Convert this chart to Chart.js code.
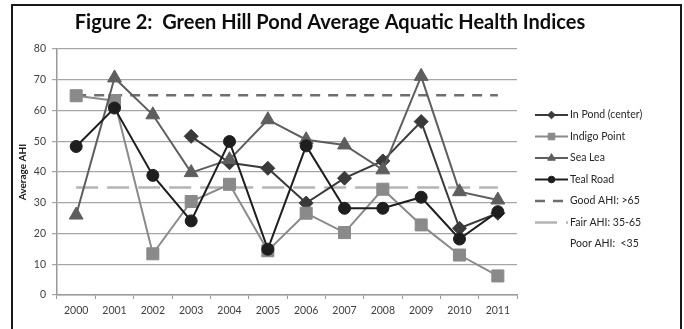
<!DOCTYPE html>
<html>
<head>
<meta charset="utf-8">
<script src="https://cdn.jsdelivr.net/npm/chart.js@4.4.1/dist/chart.umd.min.js"></script>
<style>
  html, body { margin: 0; padding: 0; background: #fff; }
  #wrap { position: relative; width: 684px; height: 329px; overflow: hidden; }
  #frame { position: absolute; left: 11px; top: 4px; width: 667px; height: 340px; border: 2px solid #1a1a1a; }
  canvas { position: absolute; left: 0; top: 0; }
</style>
</head>
<body>
<div id="wrap">
  <div id="frame"></div>
  <canvas id="chart" width="684" height="329"></canvas>
</div>
<script>
// Survey years
const years = ['2000', '2001', '2002', '2003', '2004', '2005', '2006', '2007', '2008', '2009', '2010', '2011'];

// Average AHI per monitoring site
const inPond      = [null, null, null, 51.6, 43.0, 41.2, 29.9, 38.0, 43.6, 56.4, 21.7, 26.6];
const indigoPoint = [64.8, 63.2, 13.4, 30.4, 36.0, 14.4, 26.6, 20.3, 34.4, 22.8, 13.0, 6.2];
const seaLea      = [26.0, 70.6, 58.6, 39.8, 44.0, 57.0, 50.5, 48.8, 40.7, 71.1, 33.6, 30.9];
const tealRoad    = [48.3, 60.8, 38.9, 24.1, 49.9, 14.9, 48.5, 28.2, 28.2, 31.8, 18.2, 27.1];

// Health class thresholds
const goodAhi = [65, 65, 65, 65, 65, 65, 65, 65, 65, 65, 65, 65];
const fairAhi = [35, 35, 35, 35, 35, 35, 35, 35, 35, 35, 35, 35];
const poorAhi = [null, null, null, null, null, null, null, null, null, null, null, null];

const titleText = 'Figure 2:  Green Hill Pond Average Aquatic Health Indices';
const yAxisTitle = 'Average AHI';

const FONT = 'Lato, "Open Sans", sans-serif';

function site(label, data, color, pointStyle, radius, order) {
  return {
    label, data,
    borderColor: color, backgroundColor: color,
    pointBackgroundColor: color, pointBorderColor: color,
    borderWidth: 2, pointStyle, pointRadius: radius, pointHoverRadius: radius,
    pointBorderWidth: 1, tension: 0, spanGaps: false, order,
    legendRadius: Math.max(3, radius * 0.55)
  };
}

function threshold(label, data, color, dash, order) {
  return {
    label, data,
    borderColor: color, backgroundColor: color,
    borderWidth: 2.5, borderDash: dash, pointRadius: 0, pointHoverRadius: 0,
    tension: 0, order, legendRadius: 0
  };
}

// Title drawn above the plot area
const titlePlugin = {
  id: 'figureTitle',
  afterDraw(chart) {
    const ctx = chart.ctx;
    ctx.save();
    ctx.font = 'bold 20px ' + FONT;
    ctx.fillStyle = '#0d0d0d';
    ctx.textAlign = 'center';
    ctx.textBaseline = 'middle';
    ctx.fillText(titleText, 330, 23);
    ctx.restore();
  }
};

// Legend with line samples and markers, listed to the right of the plot
const sideLegend = {
  id: 'sideLegend',
  afterDraw(chart) {
    const ctx = chart.ctx;
    const x0 = 535, x1 = 568, textX = 570;
    let y = 115;
    const rowH = 21.5;
    chart.data.datasets.forEach(ds => {
      ctx.save();
      if (ds.data.some(v => v !== null)) {
        ctx.strokeStyle = ds.borderColor;
        ctx.lineWidth = ds.borderWidth;
        ctx.setLineDash(ds.borderDash || []);
        ctx.beginPath();
        ctx.moveTo(x0, y);
        ctx.lineTo(x1, y);
        ctx.stroke();
        ctx.setLineDash([]);
        if (ds.legendRadius > 0) {
          ctx.fillStyle = ds.pointBackgroundColor;
          ctx.strokeStyle = ds.pointBorderColor;
          ctx.lineWidth = 1;
          Chart.helpers.drawPoint(ctx, { pointStyle: ds.pointStyle, radius: ds.legendRadius, borderWidth: 1 }, (x0 + x1) / 2, y);
        }
      }
      ctx.font = '10.5px ' + FONT;
      ctx.fillStyle = '#262626';
      ctx.textAlign = 'left';
      ctx.textBaseline = 'middle';
      ctx.fillText(ds.label, textX, y);
      ctx.restore();
      y += rowH;
    });
  }
};

new Chart(document.getElementById('chart'), {
  type: 'line',
  data: {
    labels: years,
    datasets: [
      site('In Pond (center)', inPond, '#3a3a3a', 'rectRot', 7, 4),
      site('Indigo Point', indigoPoint, '#8a8a8a', 'rect', 8.5, 3),
      site('Sea Lea', seaLea, '#5e5e5e', 'triangle', 8, 2),
      site('Teal Road', tealRoad, '#1e1e1e', 'circle', 6, 1),
      threshold('Good AHI: >65', goodAhi, '#6e6e6e', [10, 8], 5),
      threshold('Fair AHI: 35-65', fairAhi, '#b4b4b4', [22, 9], 6),
      threshold('Poor AHI:  <35', poorAhi, 'rgba(0,0,0,0)', [], 7)
    ]
  },
  options: {
    responsive: false,
    animation: false,
    layout: { padding: { left: 0, right: 167, top: 49, bottom: 0 } },
    plugins: {
      legend: { display: false },
      title: { display: false },
      tooltip: { enabled: false }
    },
    scales: {
      x: {
        type: 'category',
        offset: true,
        grid: { display: true, offset: true, drawOnChartArea: false, drawTicks: true, tickLength: 4, color: '#9a9a9a', lineWidth: 1 },
        border: { display: true, color: '#9a9a9a', width: 1.5 },
        ticks: { color: '#404040', font: { family: FONT, size: 10.5 }, padding: 5, maxRotation: 0, autoSkip: false },
        afterFit(scale) { scale.height = 34; }
      },
      y: {
        min: 0, max: 80,
        grid: { color: '#a6a6a6', lineWidth: 1.2, tickLength: 5, drawTicks: true },
        border: { display: true, color: '#9a9a9a', width: 1.5 },
        ticks: { stepSize: 10, color: '#404040', font: { family: FONT, size: 10.5 }, padding: 6 },
        title: { display: true, text: yAxisTitle, color: '#1a1a1a', font: { family: FONT, size: 10, weight: 'bold' }, padding: { top: 17, bottom: 0 } },
        afterFit(scale) { scale.width = 57; }
      }
    }
  },
  plugins: [titlePlugin, sideLegend]
});
</script>
</body>
</html>
